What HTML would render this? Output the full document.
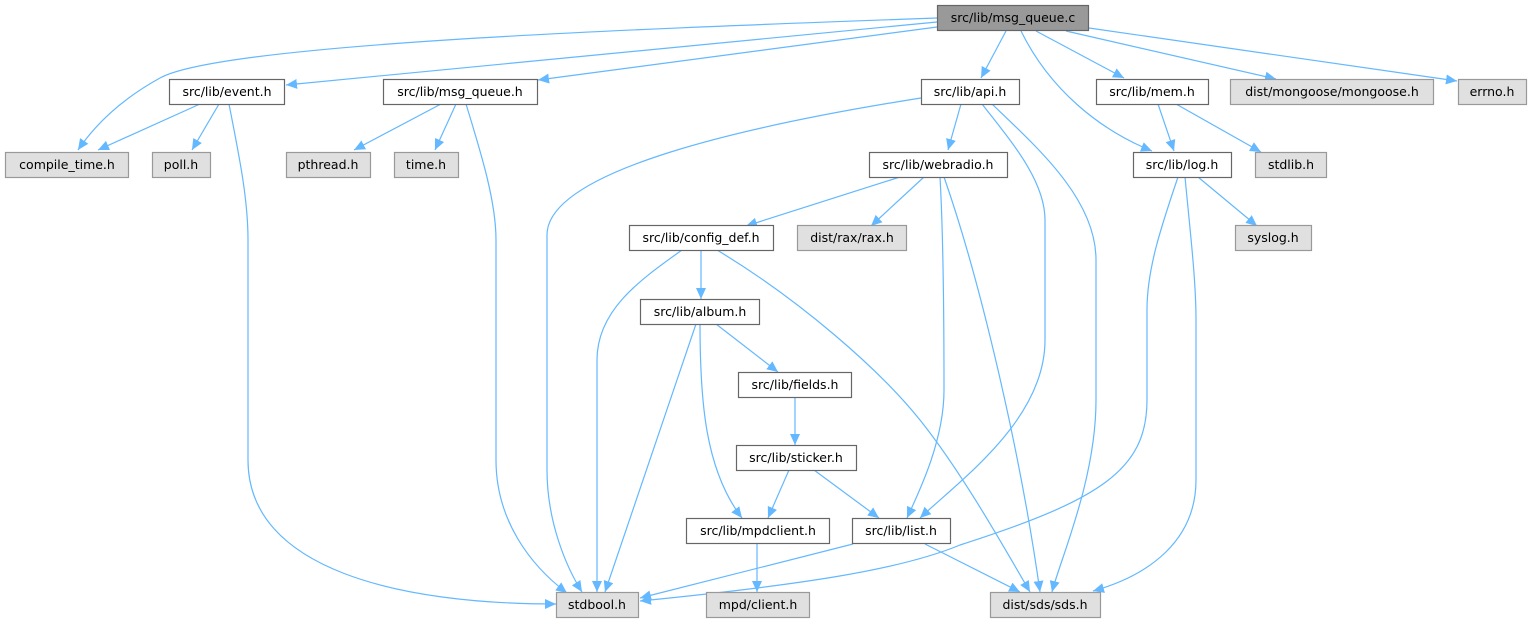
<!DOCTYPE html>
<html><head><meta charset="utf-8"><style>
html,body{margin:0;padding:0;background:#fff;}
svg text{font-family:"DejaVu Sans","Liberation Sans",sans-serif;font-size:12.5px;fill:#000;}
</style></head><body>
<svg width="1531" height="623" viewBox="0 0 1531 623" xmlns="http://www.w3.org/2000/svg">
<defs>
<marker id="a" markerUnits="userSpaceOnUse" markerWidth="12" markerHeight="12" refX="11" refY="5" orient="auto">
<path d="M0,0 L11,5 L0,10 Z" fill="#63b8ff"/>
</marker>
</defs>
<g fill="none" stroke="#63b8ff" stroke-width="1.2" marker-end="url(#a)">
<!-- from msg_queue.c -->
<path d="M937,18 C600,30 220,45 160,78 C120,100 95,125 78,150"/>
<path d="M937,22 L286,85"/>
<path d="M937,27 L538,80"/>
<path d="M1006,31 L981,78"/>
<path d="M1021,31 C1050,90 1100,130 1152,151"/>
<path d="M1036,31 L1124,78"/>
<path d="M1066,31 L1276,79"/>
<path d="M1089,28 L1457,81"/>
<!-- event.h -->
<path d="M200,104 L98,150"/>
<path d="M219,104 L192,150"/>
<path d="M229,104 C240,160 248,200 248,240 L248,460 C248,570 400,604 556,604"/>
<!-- msg_queue.h -->
<path d="M441,104 L354,150"/>
<path d="M456,104 L435,150"/>
<path d="M466,104 C480,150 496,200 496,240 L496,460 C496,520 530,565 567,593"/>
<!-- api.h -->
<path d="M921,98 C750,125 547,170 547,235 L547,470 C547,520 565,565 582,592"/>
<path d="M961,104 L948,150"/>
<path d="M982,104 C1010,140 1045,180 1045,220 L1045,340 C1045,420 960,480 920,518"/>
<path d="M992,104 C1040,150 1096,200 1096,260 L1096,400 C1096,480 1060,560 1052,592"/>
<!-- webradio.h -->
<path d="M900,177 L746,226"/>
<path d="M924,177 L871,226"/>
<path d="M940,177 C943,230 944,300 944,390 C944,440 920,490 907,518"/>
<path d="M944,177 C980,280 1020,450 1040,592"/>
<!-- mem.h -->
<path d="M1158,104 L1174,151"/>
<path d="M1176,104 L1261,152"/>
<!-- log.h -->
<path d="M1178,177 C1160,230 1147,270 1147,310 L1147,400 C1147,470 1100,500 960,545 C900,570 800,585 640,601"/>
<path d="M1185,177 C1190,230 1196,280 1196,320 L1196,480 C1196,540 1150,575 1093,591"/>
<path d="M1198,177 L1257,226"/>
<!-- config_def.h -->
<path d="M682,250 C640,280 597,310 597,360 L597,592"/>
<path d="M701,250 L701,299"/>
<path d="M717,250 C800,300 880,370 920,420 C960,470 1000,540 1030,592"/>
<!-- album.h -->
<path d="M696,324 L605,592"/>
<path d="M700,324 C700,400 705,470 742,518"/>
<path d="M716,324 L778,372"/>
<!-- fields/sticker -->
<path d="M795,397 L795,445"/>
<path d="M789,470 L768,518"/>
<path d="M814,470 L879,518"/>
<!-- mpdclient, list -->
<path d="M757,544 L757,592"/>
<path d="M853,544 L640,598"/>
<path d="M925,544 L1020,592"/>
</g>
<g stroke-width="1.2">
<rect x="937.5" y="5.5" width="151" height="25" fill="#999" stroke="#666"/>
<rect x="169.5" y="79.5" width="115" height="25" fill="#fff" stroke="#666"/>
<rect x="383.5" y="79.5" width="154" height="25" fill="#fff" stroke="#666"/>
<rect x="921.5" y="79.5" width="98" height="25" fill="#fff" stroke="#666"/>
<rect x="1096.5" y="79.5" width="112" height="25" fill="#fff" stroke="#666"/>
<rect x="1230.5" y="79.5" width="203" height="25" fill="#e0e0e0" stroke="#999"/>
<rect x="1458.5" y="79.5" width="68" height="25" fill="#e0e0e0" stroke="#999"/>
<rect x="5.5" y="152.5" width="123" height="25" fill="#e0e0e0" stroke="#999"/>
<rect x="152.5" y="152.5" width="58" height="25" fill="#e0e0e0" stroke="#999"/>
<rect x="286.5" y="152.5" width="84" height="25" fill="#e0e0e0" stroke="#999"/>
<rect x="394.5" y="152.5" width="64" height="25" fill="#e0e0e0" stroke="#999"/>
<rect x="869.5" y="152.5" width="138" height="25" fill="#fff" stroke="#666"/>
<rect x="1133.5" y="152.5" width="98" height="25" fill="#fff" stroke="#666"/>
<rect x="1255.5" y="152.5" width="71" height="25" fill="#e0e0e0" stroke="#999"/>
<rect x="629.5" y="225.5" width="144" height="25" fill="#fff" stroke="#666"/>
<rect x="797.5" y="225.5" width="109" height="25" fill="#e0e0e0" stroke="#999"/>
<rect x="1235.5" y="225.5" width="76" height="25" fill="#e0e0e0" stroke="#999"/>
<rect x="640.5" y="299.5" width="119" height="25" fill="#fff" stroke="#666"/>
<rect x="738.5" y="372.5" width="113" height="25" fill="#fff" stroke="#666"/>
<rect x="736.5" y="445.5" width="120" height="25" fill="#fff" stroke="#666"/>
<rect x="686.5" y="518.5" width="143" height="25" fill="#fff" stroke="#666"/>
<rect x="852.5" y="518.5" width="98" height="25" fill="#fff" stroke="#666"/>
<rect x="556.5" y="592.5" width="82" height="25" fill="#e0e0e0" stroke="#999"/>
<rect x="706.5" y="592.5" width="103" height="25" fill="#e0e0e0" stroke="#999"/>
<rect x="990.5" y="592.5" width="110" height="25" fill="#e0e0e0" stroke="#999"/>
</g>
<g text-anchor="middle">
<text x="1013" y="22">src/lib/msg_queue.c</text>
<text x="227" y="96">src/lib/event.h</text>
<text x="460" y="96">src/lib/msg_queue.h</text>
<text x="970" y="96">src/lib/api.h</text>
<text x="1152" y="96">src/lib/mem.h</text>
<text x="1332" y="96">dist/mongoose/mongoose.h</text>
<text x="1492" y="96">errno.h</text>
<text x="67" y="169">compile_time.h</text>
<text x="181" y="169">poll.h</text>
<text x="328" y="169">pthread.h</text>
<text x="426" y="169">time.h</text>
<text x="938" y="169">src/lib/webradio.h</text>
<text x="1182" y="169">src/lib/log.h</text>
<text x="1291" y="169">stdlib.h</text>
<text x="701" y="242">src/lib/config_def.h</text>
<text x="852" y="242">dist/rax/rax.h</text>
<text x="1273" y="242">syslog.h</text>
<text x="700" y="316">src/lib/album.h</text>
<text x="795" y="389">src/lib/fields.h</text>
<text x="796" y="462">src/lib/sticker.h</text>
<text x="758" y="535">src/lib/mpdclient.h</text>
<text x="901" y="535">src/lib/list.h</text>
<text x="597" y="609">stdbool.h</text>
<text x="758" y="609">mpd/client.h</text>
<text x="1045" y="609">dist/sds/sds.h</text>
</g>
</svg>
</body></html>
